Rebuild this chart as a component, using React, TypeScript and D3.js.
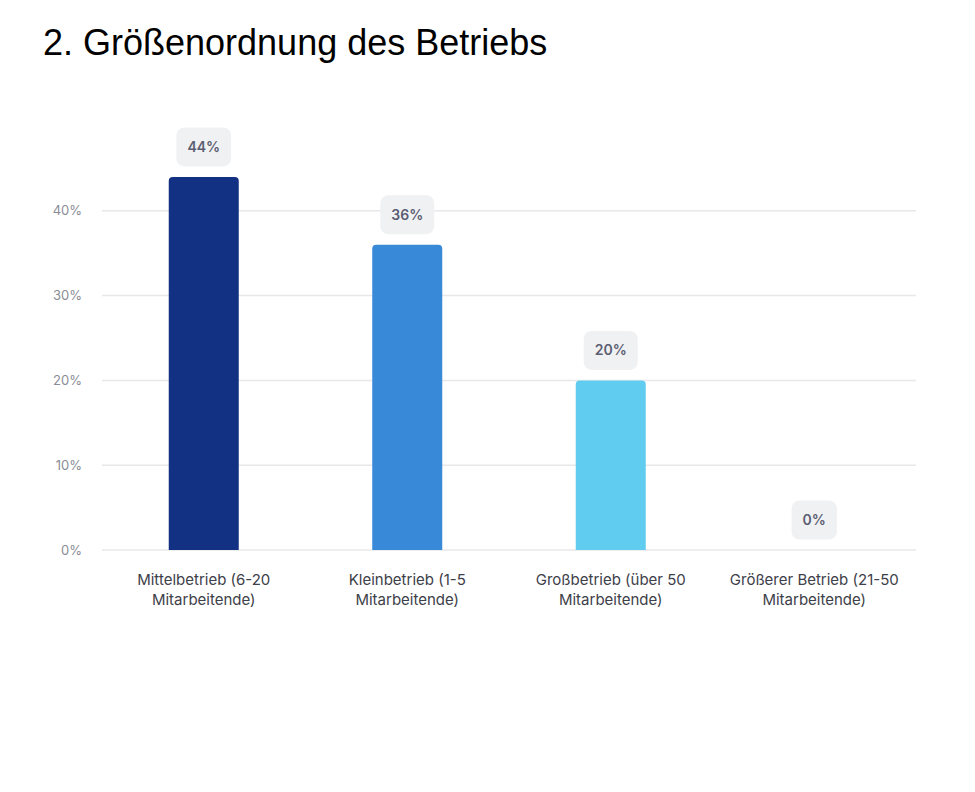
import { useEffect, useRef } from 'react';
import * as d3 from 'd3';

// Chart data
const categories = [
  ['Mittelbetrieb (6-20', 'Mitarbeitende)'],
  ['Kleinbetrieb (1-5', 'Mitarbeitende)'],
  ['Großbetrieb (über 50', 'Mitarbeitende)'],
  ['Größerer Betrieb (21-50', 'Mitarbeitende)'],
];
const values = [44, 36, 20, 0];
const barColors = ['#133183', '#3889d8', '#60cdf0', '#60cdf0'];
const yTicks = [0, 10, 20, 30, 40];

export default function App() {
  const svgRef = useRef<SVGSVGElement>(null);

  useEffect(() => {
    if (!svgRef.current) return;

    const width = 975;
    const height = 792;
    const margin = { top: 126, right: 59, bottom: 242, left: 102 };
    const innerWidth = width - margin.left - margin.right;
    const innerHeight = height - margin.top - margin.bottom;

    const svg = d3.select(svgRef.current);
    svg.selectAll('*').remove();
    svg.attr('width', width).attr('height', height);

    // Title
    svg
      .append('text')
      .attr('x', 43)
      .attr('y', 55)
      .attr('font-family', '"Liberation Sans", Arial, sans-serif')
      .attr('font-size', '36px')
      .attr('fill', '#000')
      .text('2. Größenordnung des Betriebs');

    const g = svg
      .append('g')
      .attr('transform', `translate(${margin.left},${margin.top})`)
      .attr('font-family', 'Inter, sans-serif');

    // Scales
    const xScale = d3
      .scaleBand<number>()
      .domain(d3.range(values.length))
      .range([0, innerWidth])
      .paddingInner(0.656)
      .paddingOuter(0.328);

    const yScale = d3.scaleLinear().domain([0, 50]).range([innerHeight, 0]);

    // Grid lines
    g.selectAll('line.grid')
      .data(yTicks)
      .enter()
      .append('line')
      .attr('class', 'grid')
      .attr('x1', 0)
      .attr('x2', innerWidth)
      .attr('y1', (d) => yScale(d))
      .attr('y2', (d) => yScale(d))
      .attr('stroke', '#e8e8ea')
      .attr('stroke-width', 1.5);

    // Y axis labels
    g.selectAll('text.ytick')
      .data(yTicks)
      .enter()
      .append('text')
      .attr('class', 'ytick')
      .attr('x', -20)
      .attr('y', (d) => yScale(d))
      .attr('dy', '0.35em')
      .attr('text-anchor', 'end')
      .attr('fill', '#8a8d96')
      .attr('font-size', '13px')
      .text((d) => `${d}%`);

    // Bars with rounded top corners
    const r = 4;
    g.selectAll('path.bar')
      .data(values)
      .enter()
      .append('path')
      .attr('class', 'bar')
      .attr('fill', (_, i) => barColors[i])
      .attr('d', (d, i) => {
        const x0 = xScale(i) || 0;
        const w = xScale.bandwidth();
        const y0 = yScale(d);
        const y1 = yScale(0);
        if (y1 - y0 < r) return '';
        return `M${x0},${y1}V${y0 + r}Q${x0},${y0} ${x0 + r},${y0}H${x0 + w - r}Q${x0 + w},${y0} ${x0 + w},${y0 + r}V${y1}Z`;
      });

    // Value badges
    const badges = g
      .selectAll('g.badge')
      .data(values)
      .enter()
      .append('g')
      .attr('class', 'badge')
      .attr('transform', (d, i) => `translate(${(xScale(i) || 0) + xScale.bandwidth() / 2},${yScale(d) - 30})`);

    const rects = badges.append('rect').attr('fill', '#f0f1f2').attr('rx', 8);
    const labels = badges
      .append('text')
      .attr('text-anchor', 'middle')
      .attr('dy', '0.35em')
      .attr('fill', '#5b5e73')
      .attr('font-size', '14px')
      .attr('font-weight', 600)
      .text((d) => `${d}%`);

    labels.each(function (_, i) {
      const w = (this as SVGTextElement).getComputedTextLength() + 22;
      d3.select(rects.nodes()[i])
        .attr('x', -w / 2)
        .attr('y', -19.5)
        .attr('width', w)
        .attr('height', 39);
    });

    // X axis category labels
    const xl = g
      .selectAll('text.xtick')
      .data(categories)
      .enter()
      .append('text')
      .attr('class', 'xtick')
      .attr('text-anchor', 'middle')
      .attr('fill', '#3d4048')
      .attr('font-size', '15px')
      .attr('transform', (_, i) => `translate(${(xScale(i) || 0) + xScale.bandwidth() / 2},${innerHeight + 35})`);

    xl.selectAll('tspan')
      .data((d) => d)
      .enter()
      .append('tspan')
      .attr('x', 0)
      .attr('dy', (_, j) => (j === 0 ? 0 : 20))
      .text((d) => d);
  }, []);

  return (
    <svg
      ref={svgRef}
      style={{ position: 'absolute', left: 0, top: 0, background: '#fff' }}
    />
  );
}
